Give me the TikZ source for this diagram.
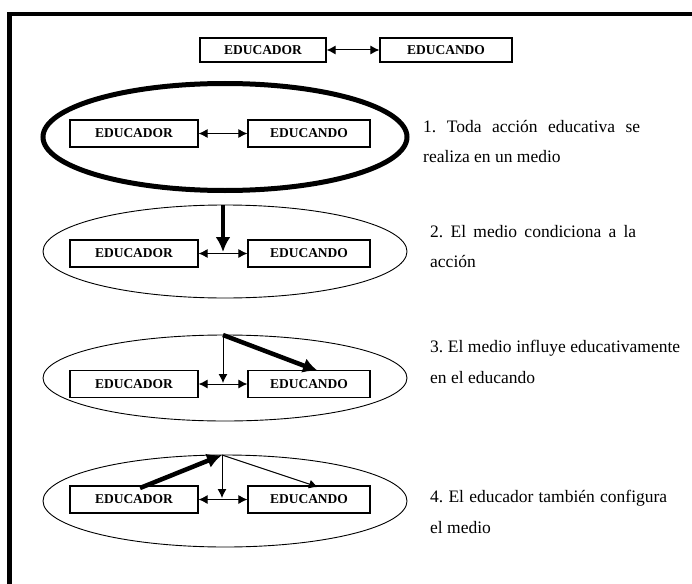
\documentclass[tikz,border=0pt]{standalone}
\usepackage{fontspec}
\setmainfont{Liberation Serif}
\usetikzlibrary{arrows.meta,shapes.geometric}
\frenchspacing
\begin{document}
\begin{tikzpicture}[x=1pt,y=-1pt,
  boxA/.style={draw,line width=1.2pt,minimum width=128pt,minimum height=27pt,inner sep=0pt,font=\fontsize{13.5}{15}\selectfont\bfseries},
  boxB/.style={draw,line width=1.2pt,minimum width=122pt,minimum height=27pt,inner sep=0pt,font=\fontsize{13.5}{15}\selectfont\bfseries},
  medio/.style={draw,ellipse,line width=0.9pt,minimum width=364pt,inner sep=0pt},
  dbl/.style={line width=1pt,{Latex[length=9pt,width=9pt]}-{Latex[length=9pt,width=9pt]}},
  thin/.style={line width=1pt,-{Latex[length=9pt,width=9pt]}},
  thick/.style={line width=4.5pt,-{Latex[length=15pt,width=15pt]}},
  txt/.style={inner sep=0pt,anchor=base west,font=\fontsize{17.5}{20}\selectfont}
]
\useasboundingbox (0,0) rectangle (692,583);
% frame
\coordinate (fbl) at (9.5,590);
\coordinate (ftl) at (9.5,14);
\coordinate (ftr) at (700,14);
\draw[line width=4.5pt] (fbl) -- (ftl) -- (ftr);

% row 0
\node[draw,line width=1.2pt,minimum width=126pt,minimum height=24pt,inner sep=0pt,font=\fontsize{13.5}{15}\selectfont\bfseries] (ed0) at (263,50) {EDUCADOR};
\node[draw,line width=1.2pt,minimum width=132pt,minimum height=24pt,inner sep=0pt,font=\fontsize{13.5}{15}\selectfont\bfseries] (en0) at (446,50) {EDUCANDO};
\draw[dbl] (ed0.east) -- (en0.west);

% row 1
\node[medio,line width=5pt,minimum height=107pt] (m1) at (225,137) {};
\node[boxA] (ed1) at (134,133.5) {EDUCADOR};
\node[boxB] (en1) at (309,133.5) {EDUCANDO};
\draw[dbl] (ed1.east) -- (en1.west);
\node[txt] (t1a) at (423,132) {\makebox[217pt][s]{1. Toda acción educativa se}};
\node[txt] (t1b) at (423,162) {realiza en un medio};

% row 2
\node[medio,minimum height=93pt] (m2) at (225,251.5) {};
\node[boxA] (ed2) at (134,253.5) {EDUCADOR};
\node[boxB] (en2) at (309,253.5) {EDUCANDO};
\draw[dbl] (ed2.east) -- (en2.west);
\coordinate (top2) at (223,205);
\coordinate (mid2) at (223,252);
\draw[thick] (top2) -- (mid2);
\node[txt] (t2a) at (430,237) {\makebox[206pt][s]{2. El medio condiciona a la}};
\node[txt] (t2b) at (430,267) {acción};

% row 3
\node[medio,minimum height=86pt] (m3) at (225,378) {};
\node[boxA] (ed3) at (134,384) {EDUCADOR};
\node[boxB] (en3) at (309,384) {EDUCANDO};
\draw[dbl] (ed3.east) -- (en3.west);
\coordinate (top3) at (223,335);
\coordinate (mid3) at (223,383);
\coordinate (tip3) at (318,371);
\draw[thin] (top3) -- (mid3);
\draw[thick] (top3) -- (tip3);
\node[txt] (t3a) at (430,352) {\makebox[250pt][s]{3. El medio influye educativamente}};
\node[txt] (t3b) at (430,383) {en el educando};

% row 4
\node[medio,minimum height=92pt] (m4) at (225,501) {};
\node[boxA] (ed4) at (134,499.5) {EDUCADOR};
\node[boxB] (en4) at (309,499.5) {EDUCANDO};
\draw[dbl] (ed4.east) -- (en4.west);
\coordinate (top4) at (222,455);
\coordinate (mid4) at (222,498);
\coordinate (src4) at (140,488);
\coordinate (tip4) at (318,487);
\draw[thick] (src4) -- (top4);
\draw[thin] (top4) -- (mid4);
\draw[thin] (top4) -- (tip4);
\node[txt] (t4a) at (430,502) {\makebox[237pt][s]{4. El educador también configura}};
\node[txt] (t4b) at (430,533) {el medio};
\end{tikzpicture}
\end{document}
